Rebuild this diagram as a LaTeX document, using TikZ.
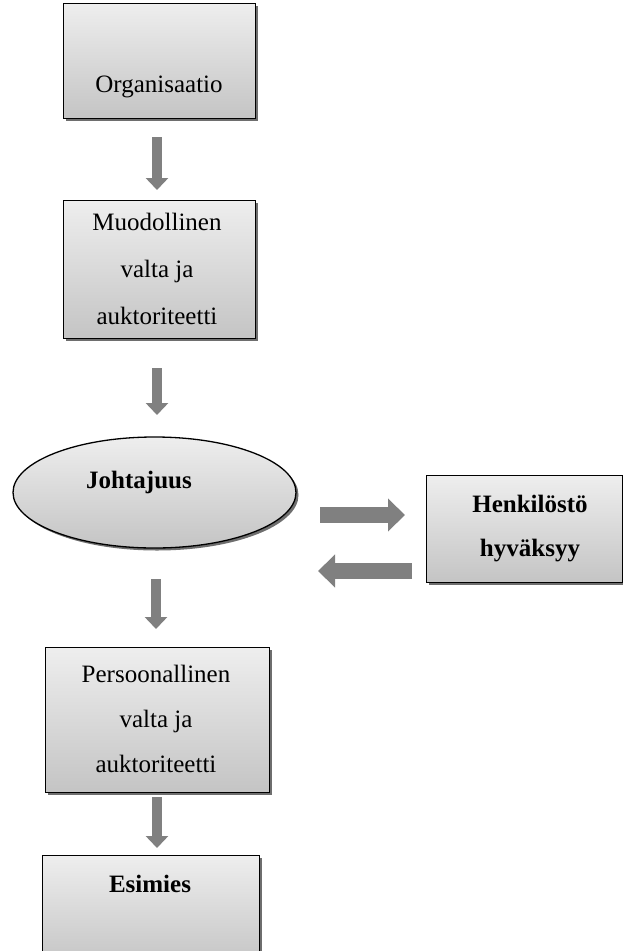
\documentclass[tikz,border=0pt]{standalone}
\usepackage{fontspec}
\setmainfont{Liberation Serif}
\usetikzlibrary{shapes.geometric,shadows,arrows.meta}
\definecolor{fillTop}{RGB}{238,238,238}
\definecolor{fillBot}{RGB}{196,196,196}
\definecolor{arrowGray}{RGB}{128,128,128}
\definecolor{shadowGray}{RGB}{110,110,110}
\begin{document}
\begin{tikzpicture}[x=1pt,y=-1pt,
  shadedbox/.style={draw=black, line width=1.3pt, top color=fillTop, bottom color=fillBot,
    drop shadow={shadow xshift=2.5pt, shadow yshift=-2.5pt, fill=shadowGray, opacity=1},
    inner sep=0pt, anchor=north west},
  lbl/.style={font=\fontsize{25}{30}\selectfont, inner sep=0pt, anchor=base},
  blbl/.style={lbl, font=\fontsize{25}{30}\selectfont\bfseries},
  varrow/.style={draw=arrowGray, line width=10pt, -{Triangle[width=22pt,length=12pt]}, arrowGray},
  harrow/.style={draw=arrowGray, line width=16pt, -{Triangle[width=32pt,length=17pt]}, arrowGray}
]
\useasboundingbox (0,0) rectangle (623,951);

% boxes of the main column
\node[shadedbox, minimum width=192pt, minimum height=115pt] (org) at (63,3) {};
\node[shadedbox, minimum width=192pt, minimum height=138pt] (formal) at (63,200) {};
\node[ellipse, draw=black, line width=1.3pt, top color=fillTop, bottom color=fillBot,
  drop shadow={shadow xshift=2.5pt, shadow yshift=-2.5pt, fill=shadowGray, opacity=1},
  minimum width=283pt, minimum height=111pt, inner sep=0pt] (lead) at (154.5,492.5) {};
\node[shadedbox, minimum width=196pt, minimum height=107pt] (staff) at (426,475) {};
\node[shadedbox, minimum width=224pt, minimum height=145pt] (personal) at (45,647) {};
\node[shadedbox, minimum width=217pt, minimum height=110pt] (boss) at (42,855) {};

% texts
\node[lbl] (t1) at (159,92) {Organisaatio};
\node[lbl] (t2a) at (157,230) {Muodollinen};
\node[lbl] (t2b) at (157,277) {valta ja};
\node[lbl] (t2c) at (157,324) {auktoriteetti};
\node[blbl] (t3) at (139,488) {Johtajuus};
\node[blbl] (t4a) at (530,512) {Henkilöstö};
\node[blbl] (t4b) at (530,556) {hyväksyy};
\node[lbl] (t5a) at (156,682) {Persoonallinen};
\node[lbl] (t5b) at (156,727) {valta ja};
\node[lbl] (t5c) at (156,772) {auktoriteetti};
\node[blbl] (t6) at (150,892) {Esimies};

% arrow end points
\coordinate (a1s) at (157,137);  \coordinate (a1e) at (157,190);
\coordinate (a2s) at (157,368);  \coordinate (a2e) at (157,415);
\coordinate (a3s) at (156,579);  \coordinate (a3e) at (156,629);
\coordinate (a4s) at (157,797);  \coordinate (a4e) at (157,848);
\coordinate (hrs) at (320,515);  \coordinate (hre) at (405,515);
\coordinate (hls) at (412,571);  \coordinate (hle) at (318,571);

% connectors
\draw[varrow] (a1s) -- (a1e);
\draw[varrow] (a2s) -- (a2e);
\draw[varrow] (a3s) -- (a3e);
\draw[varrow] (a4s) -- (a4e);
\draw[harrow] (hrs) -- (hre);
\draw[harrow] (hls) -- (hle);
\end{tikzpicture}
\end{document}
